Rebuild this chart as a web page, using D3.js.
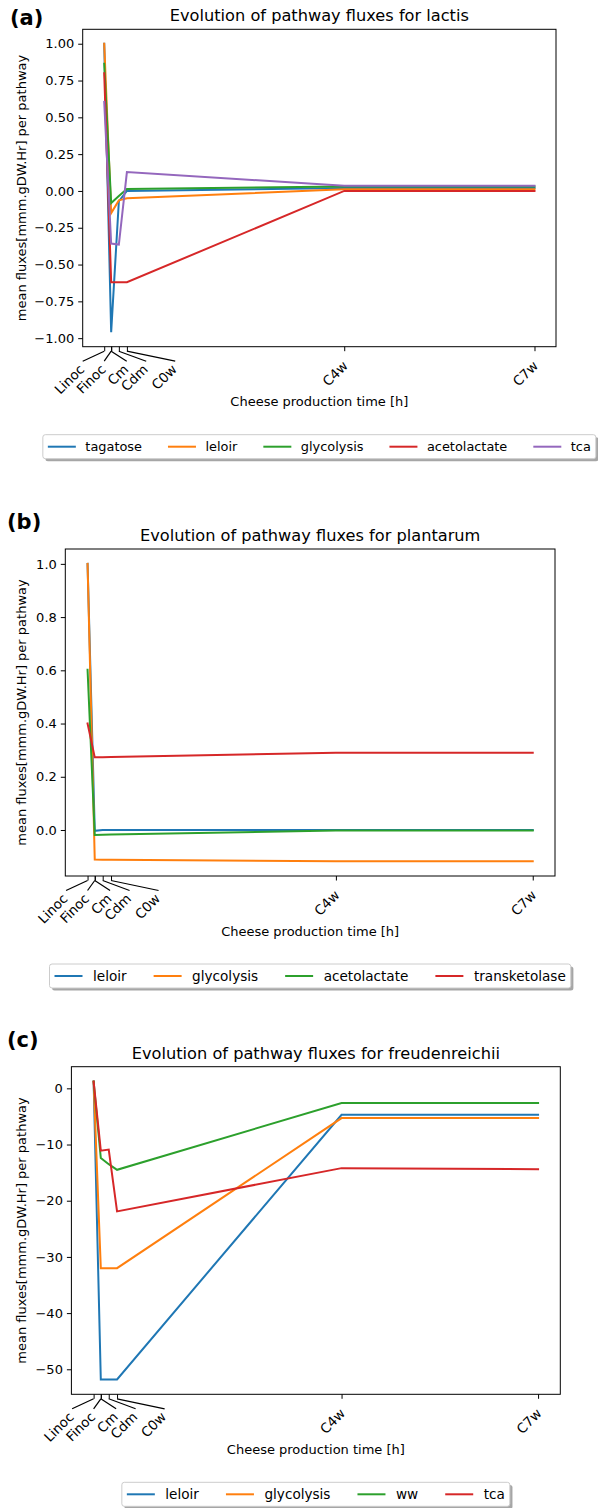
<!DOCTYPE html>
<html><head><meta charset="utf-8">
<script src="https://cdn.jsdelivr.net/npm/d3@7"></script>
<style>
body{margin:0;background:#fff}
svg{display:block}
text{font-family:"DejaVu Sans",sans-serif;fill:#000}
</style>
</head><body>
<svg id="chart" width="598" height="1508"></svg>
<script>
// ---------- data ----------
const timeLabels = ["Linoc", "Finoc", "Cm", "Cdm", "C0w", "C4w", "C7w"];
const timeHours  = [0, 19, 19, 40, 62, 656, 1176];

const lactisNames = ["tagatose", "leloir", "glycolysis", "acetolactate", "tca"];
const lactisTagatose     = [1.0, -0.96, -0.96, -0.07, 0.0, 0.02, 0.02];
const lactisLeloir       = [1.0, -0.15, -0.15, -0.064, -0.05, 0.012, 0.012];
const lactisGlycolysis   = [0.864, -0.082, -0.082, -0.035, 0.013, 0.03, 0.03];
const lactisAcetolactate = [0.80, -0.62, -0.62, -0.62, -0.62, 0.0, 0.0];
const lactisTca          = [0.605, -0.357, -0.357, -0.364, 0.128, 0.035, 0.035];
const lactisTicks = [-1.0, -0.75, -0.5, -0.25, 0.0, 0.25, 0.5, 0.75, 1.0];

const plantarumNames = ["leloir", "glycolysis", "acetolactate", "transketolase"];
const plantarumLeloir        = [1.0, -0.003, -0.003, 0.0, 0.0, 0.0, 0.0];
const plantarumGlycolysis    = [1.0, -0.111, -0.111, -0.112, -0.112, -0.117, -0.117];
const plantarumAcetolactate  = [0.602, -0.019, -0.019, -0.018, -0.017, -0.002, -0.002];
const plantarumTransketolase = [0.40, 0.273, 0.273, 0.273, 0.274, 0.29, 0.29];
const plantarumTicks = [0.0, 0.2, 0.4, 0.6, 0.8, 1.0];

const freudNames = ["leloir", "glycolysis", "ww", "tca"];
const freudLeloir     = [1.2, -51.8, -51.8, -51.8, -51.8, -4.7, -4.7];
const freudGlycolysis = [1.2, -32.0, -32.0, -32.0, -32.0, -5.3, -5.3];
const freudWw         = [1.2, -12.4, -12.4, -13.5, -14.5, -2.6, -2.6];
const freudTca        = [1.2, -11.1, -11.1, -10.9, -21.9, -14.2, -14.4];
const freudTicks = [-50, -40, -30, -20, -10, 0];

const colors = ["#1f77b4", "#ff7f0e", "#2ca02c", "#d62728", "#9467bd"];
const xLabelText = "Cheese production time [h]";
const yLabelText = "mean fluxes[mmm.gDW.Hr] per pathway";

// ---------- layout ----------
const panels = [
  {letter: "(a)", letterPos: [10, 25], title: "Evolution of pathway fluxes for lactis",
   names: lactisNames, series: [lactisTagatose, lactisLeloir, lactisGlycolysis, lactisAcetolactate, lactisTca],
   ticks: lactisTicks, fmt: ".2f", box: {l: 82.7, r: 556, t: 29.3, b: 346.7},
   leg: {font: 12.9, handle: 28, gap: 9.5, col: 26}},
  {letter: "(b)", letterPos: [7, 529], title: "Evolution of pathway fluxes for plantarum",
   names: plantarumNames, series: [plantarumLeloir, plantarumGlycolysis, plantarumAcetolactate, plantarumTransketolase],
   ticks: plantarumTicks, fmt: ".1f", box: {l: 65.3, r: 555, t: 549, b: 876},
   leg: {font: 13.6, handle: 28, gap: 10.5, col: 27}},
  {letter: "(c)", letterPos: [7, 1047], title: "Evolution of pathway fluxes for freudenreichii",
   names: freudNames, series: [freudLeloir, freudGlycolysis, freudWw, freudTca],
   ticks: freudTicks, fmt: "d", box: {l: 71.4, r: 560.3, t: 1066.7, b: 1394.3},
   leg: {font: 13.6, handle: 28, gap: 10.5, col: 27}}
];
const clusterOffsets = [-21.5, 0, 22.5, 42, 71];

const svg = d3.select("#chart");

function padded(ext) {
  const r = ext[1] - ext[0];
  return [ext[0] - 0.05 * r, ext[1] + 0.05 * r];
}

panels.forEach(p => {
  const g = svg.append("g");
  const B = p.box;
  const x = d3.scaleLinear().domain(padded(d3.extent(timeHours))).range([B.l, B.r]);
  const allVals = p.series.flat();
  const y = d3.scaleLinear().domain(padded(d3.extent(allVals))).range([B.b, B.t]);

  // lines
  const line = d3.line().x((d, i) => x(timeHours[i])).y(d => y(d));
  p.series.forEach((s, k) => {
    g.append("path").datum(s).attr("d", line)
      .attr("fill", "none").attr("stroke", colors[k]).attr("stroke-width", 2)
      .attr("stroke-linejoin", "miter").attr("stroke-linecap", "square");
  });

  // frame
  g.append("rect").attr("x", B.l).attr("y", B.t).attr("width", B.r - B.l).attr("height", B.b - B.t)
    .attr("fill", "none").attr("stroke", "#000").attr("stroke-width", 1);

  // y axis
  const yAxis = d3.axisLeft(y).tickValues(p.ticks).tickFormat(d3.format(p.fmt)).tickSize(4.5).tickPadding(4);
  const ya = g.append("g").attr("transform", `translate(${B.l},0)`).call(yAxis);
  ya.select(".domain").remove();
  ya.selectAll("text").style("font-size", "13px").style("font-family", "DejaVu Sans");
  ya.selectAll("line").attr("stroke", "#000");

  // x axis ticks
  const xAxis = d3.axisBottom(x).tickValues(timeHours).tickFormat("").tickSize(4.5);
  const xa = g.append("g").attr("transform", `translate(0,${B.b})`).call(xAxis);
  xa.select(".domain").remove();
  xa.selectAll("line").attr("stroke", "#000");

  // x tick labels with connectors
  const x0 = x(timeHours[0]);
  timeLabels.forEach((lab, i) => {
    let px, py;
    if (i < clusterOffsets.length) {
      const ex = x0 + clusterOffsets[i], ey = B.b + 14.5;
      g.append("line").attr("x1", x(timeHours[i])).attr("y1", B.b + 4.5)
        .attr("x2", ex).attr("y2", ey).attr("stroke", "#000").attr("stroke-width", 1.2);
      px = ex + 2.5; py = ey + 9;
    } else {
      px = x(timeHours[i]) + 4.5; py = B.b + 20;
    }
    g.append("text").attr("transform", `translate(${px},${py}) rotate(-45)`)
      .attr("text-anchor", "end").style("font-size", "13.4px").text(lab);
  });

  // axis labels
  g.append("text").attr("x", (B.l + B.r) / 2).attr("y", B.b + 59.5)
    .attr("text-anchor", "middle").style("font-size", "13px").text(xLabelText);
  g.append("text").attr("transform", `translate(${26},${(B.t + B.b) / 2}) rotate(-90)`)
    .attr("text-anchor", "middle").style("font-size", "13px").text(yLabelText);

  // title and panel letter
  g.append("text").attr("x", (B.l + B.r) / 2).attr("y", B.t - 8)
    .attr("text-anchor", "middle").style("font-size", "16.2px").text(p.title);
  g.append("text").attr("x", p.letterPos[0]).attr("y", p.letterPos[1])
    .style("font-size", "21px").style("font-weight", "bold").text(p.letter);

  // legend
  const L = p.leg;
  const lg = g.append("g");
  let cx = 5;
  p.names.forEach((n, k) => {
    const it = lg.append("g");
    it.append("line").attr("x1", cx).attr("x2", cx + L.handle).attr("y1", 0).attr("y2", 0)
      .attr("stroke", colors[k]).attr("stroke-width", 2);
    const t = it.append("text").attr("x", cx + L.handle + L.gap).attr("y", L.font * 0.35)
      .style("font-size", L.font + "px").text(n);
    const w = t.node().getComputedTextLength();
    cx += L.handle + L.gap + w + L.col;
  });
  const legW = cx - L.col + 5;
  const legH = 24;
  const legX = (B.l + B.r) / 2 - legW / 2;
  const legY = B.b + 88;
  lg.insert("rect", ":first-child").attr("x", 0).attr("y", -legH / 2).attr("width", legW).attr("height", legH)
    .attr("rx", 2.5).attr("fill", "#fff").attr("stroke", "#cccccc").attr("stroke-width", 1);
  lg.insert("rect", ":first-child").attr("x", 2.6).attr("y", -legH / 2 + 2.6).attr("width", legW).attr("height", legH)
    .attr("rx", 2.5).attr("fill", "#a6a6a6");
  lg.attr("transform", `translate(${legX},${legY + legH / 2})`);
});
</script>
</body></html>
